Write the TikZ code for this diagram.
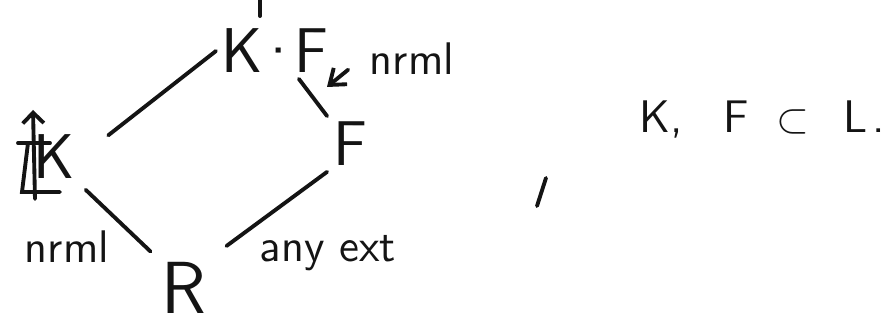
\documentclass[tikz,border=0pt]{standalone}
\usepackage{tikz}
\usetikzlibrary{arrows.meta,positioning,calc}
\definecolor{penink}{HTML}{141414}

\begin{document}
\begin{tikzpicture}[
  font=\sffamily,
  hand/.style={draw=penink,line width=1.1pt,line cap=round},
  fld/.style={text=penink,inner sep=1.5pt,font=\sffamily\fontsize{18}{20}\selectfont},
  lbl/.style={text=penink,inner sep=0pt,anchor=base,font=\sffamily\fontsize{13}{15}\selectfont},
]
\useasboundingbox (0,0) rectangle (8.89,3.27);
\node[fld] (kf) at (2.75,2.76) {K\hspace{-0.12em}·\hspace{-0.12em}F};
\node[fld] (lk) at (0.54,1.70) {K};
\node[fld] (f) at (3.50,1.83) {F};
\node[fld,font=\sffamily\fontsize{21}{24}\selectfont] (r) at (1.84,0.39) {R};
\node[lbl] (nt) at (4.12,2.52) {nrml};
\node[lbl] (nb) at (0.67,0.64) {nrml};
\node[lbl] (ae) at (3.28,0.65) {any ext};
\node[lbl,font=\sffamily\fontsize{13}{15}\selectfont] (sub) at (7.62,1.94) {K,\hspace{0.9em}F\hspace{0.6em}$\subset$\hspace{0.75em}L\hspace{0.1em}.};
% scribble over the left K
\draw[hand,-{Straight Barb[length=3pt]}] ($(lk)+(-0.19,-0.42)$) -- ($(lk)+(-0.21,0.47)$);
\draw[hand] ($(lk)+(-0.36,0.14)$) -- ($(lk)+(-0.04,0.14)$);
\draw[hand] ($(lk)+(-0.26,0.14)$) -- ($(lk)+(-0.32,-0.35)$) -- ($(lk)+(0.06,-0.35)$);
% the diamond
\draw[hand,shorten <=10pt] (lk.east) -- (kf.west);
\draw[hand] ([xshift=-10pt]kf.south east) -- (f.north west);
\draw[hand,shorten <=2pt,shorten >=2pt] (lk.south east) -- (r.north west);
\draw[hand,shorten <=5pt] (r.north east) -- (f.south west);
\coordinate (up) at (2.60,3.27);
\draw[hand] ([yshift=2pt]kf.north -| up) -- (up);
% pointer to the top label
\coordinate (tip) at (3.27,2.40);
\draw[hand,-{Straight Barb[length=4pt,width=6pt]}] ([xshift=-6pt,yshift=-3pt]nt.west) -- (tip);
\draw[hand] (5.37,1.21) -- (5.46,1.49);
\end{tikzpicture}
\end{document}
